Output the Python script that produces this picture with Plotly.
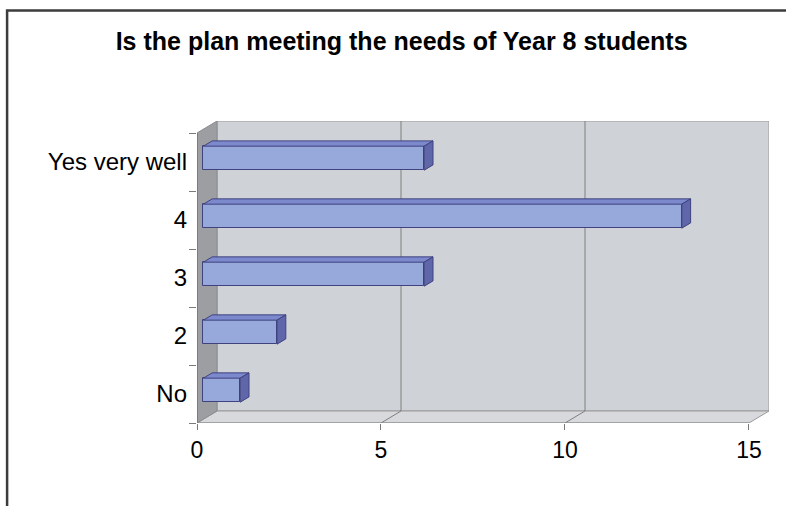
import plotly.graph_objects as go

# Survey responses, bottom to top
categories = ["No", "2", "3", "4", "Yes very well"]
counts = [1, 2, 6, 13, 6]
x_ticks = [0, 5, 10, 15]
x_max = 15

# Pseudo-3D depth of the chart box, in data units
DEPTH_X = 0.544
DEPTH_Y = 0.207
# Depth fractions of the bar front and back faces
F_FRONT = 0.32
F_BACK = 0.76
BAR_H = 0.414

WALL_BACK = "#cfd2d6"
WALL_SIDE = "#9c9ea2"
FLOOR = "#d8d9dc"
EDGE = "#9a9a9a"
BAR_FRONT = "#97a8da"
BAR_TOP = "#7c89cd"
BAR_SIDE = "#5f66aa"
BAR_EDGE = "#3f427e"

n = len(categories)
y_lo, y_hi = -0.5, n - 0.5


def poly(pts):
    return "M " + " L ".join(f"{x},{y}" for x, y in pts) + " Z"


shapes = []
# back wall
shapes.append(dict(type="path", xref="x", yref="y", layer="below",
                   path=poly([(DEPTH_X, y_lo + DEPTH_Y), (x_max + DEPTH_X, y_lo + DEPTH_Y),
                              (x_max + DEPTH_X, y_hi + DEPTH_Y), (DEPTH_X, y_hi + DEPTH_Y)]),
                   fillcolor=WALL_BACK, line=dict(color=EDGE, width=1)))
# floor
shapes.append(dict(type="path", xref="x", yref="y", layer="below",
                   path=poly([(0, y_lo), (x_max, y_lo), (x_max + DEPTH_X, y_lo + DEPTH_Y),
                              (DEPTH_X, y_lo + DEPTH_Y)]),
                   fillcolor=FLOOR, line=dict(color=EDGE, width=1)))
# left side wall
shapes.append(dict(type="path", xref="x", yref="y", layer="below",
                   path=poly([(0, y_lo), (DEPTH_X, y_lo + DEPTH_Y), (DEPTH_X, y_hi + DEPTH_Y),
                              (0, y_hi)]),
                   fillcolor=WALL_SIDE, line=dict(color="#8a8c90", width=1)))
# gridlines: across the floor and up the back wall
for v in x_ticks[1:-1]:
    shapes.append(dict(type="path", xref="x", yref="y", layer="below",
                       path=f"M {v},{y_lo} L {v + DEPTH_X},{y_lo + DEPTH_Y} L {v + DEPTH_X},{y_hi + DEPTH_Y}",
                       line=dict(color="#7f7f7f", width=1)))
# front axis lines
shapes.append(dict(type="line", xref="x", yref="y", x0=0, x1=0, y0=y_lo, y1=y_hi,
                   line=dict(color="#6b6b6b", width=1.2)))
shapes.append(dict(type="line", xref="x", yref="y", x0=0, x1=x_max, y0=y_lo, y1=y_lo,
                   line=dict(color="#8a8a8a", width=1.2)))
# outer chart frame
shapes.append(dict(type="rect", xref="paper", yref="paper",
                   x0=-0.332, x1=1.3, y0=-0.5, y1=1.366,
                   line=dict(color="#3c3c3c", width=2.5), fillcolor="rgba(0,0,0,0)"))

fig = go.Figure()

# front faces of the bars
fig.add_trace(go.Bar(
    orientation="h",
    x=counts,
    y=[i + F_FRONT * DEPTH_Y for i in range(n)],
    base=F_FRONT * DEPTH_X,
    width=BAR_H,
    marker=dict(color=BAR_FRONT, line=dict(color=BAR_EDGE, width=1)),
    hoverinfo="skip",
    showlegend=False,
))

# top and end faces of the bars
ddx = (F_BACK - F_FRONT) * DEPTH_X
ddy = (F_BACK - F_FRONT) * DEPTH_Y
for i, v in enumerate(counts):
    x0 = F_FRONT * DEPTH_X
    x1 = x0 + v
    yb = i + F_FRONT * DEPTH_Y - BAR_H / 2
    yt = i + F_FRONT * DEPTH_Y + BAR_H / 2
    top = [(x0, yt), (x1, yt), (x1 + ddx, yt + ddy), (x0 + ddx, yt + ddy), (x0, yt)]
    side = [(x1, yb), (x1 + ddx, yb + ddy), (x1 + ddx, yt + ddy), (x1, yt), (x1, yb)]
    for pts, col in ((top, BAR_TOP), (side, BAR_SIDE)):
        fig.add_trace(go.Scatter(
            x=[p[0] for p in pts], y=[p[1] for p in pts],
            mode="lines", fill="toself", fillcolor=col,
            line=dict(color=BAR_EDGE, width=1),
            hoverinfo="skip", showlegend=False,
        ))

font = "Liberation Sans, Arial, sans-serif"

fig.update_layout(
    width=786, height=506,
    margin=dict(l=197, r=17, t=121, b=83),
    paper_bgcolor="white",
    plot_bgcolor="white",
    shapes=shapes,
    title=dict(
        text="<b>Is the plan meeting the needs of Year 8 students</b>",
        x=0.511, xanchor="center", xref="container",
        y=1 - 41 / 506, yanchor="middle", yref="container",
        font=dict(family=font, size=25, color="black"),
    ),
    xaxis=dict(
        range=[0, x_max + DEPTH_X],
        tickvals=x_ticks,
        ticks="outside", ticklen=6, tickcolor="#7a7a7a",
        showgrid=False, zeroline=False, showline=False,
        tickfont=dict(family=font, size=23, color="black"),
        fixedrange=True,
    ),
    yaxis=dict(
        range=[y_lo, y_hi + DEPTH_Y],
        tickvals=list(range(n)),
        ticktext=categories,
        ticks="",
        minor=dict(tickvals=[k - 0.5 for k in range(n + 1)], ticks="outside",
                   ticklen=7, tickcolor="#7a7a7a"),
        ticklabelstandoff=9,
        showgrid=False, zeroline=False, showline=False,
        tickfont=dict(family=font, size=24, color="black"),
        fixedrange=True,
    ),
    bargap=0,
)

fig.write_html("out.html")
